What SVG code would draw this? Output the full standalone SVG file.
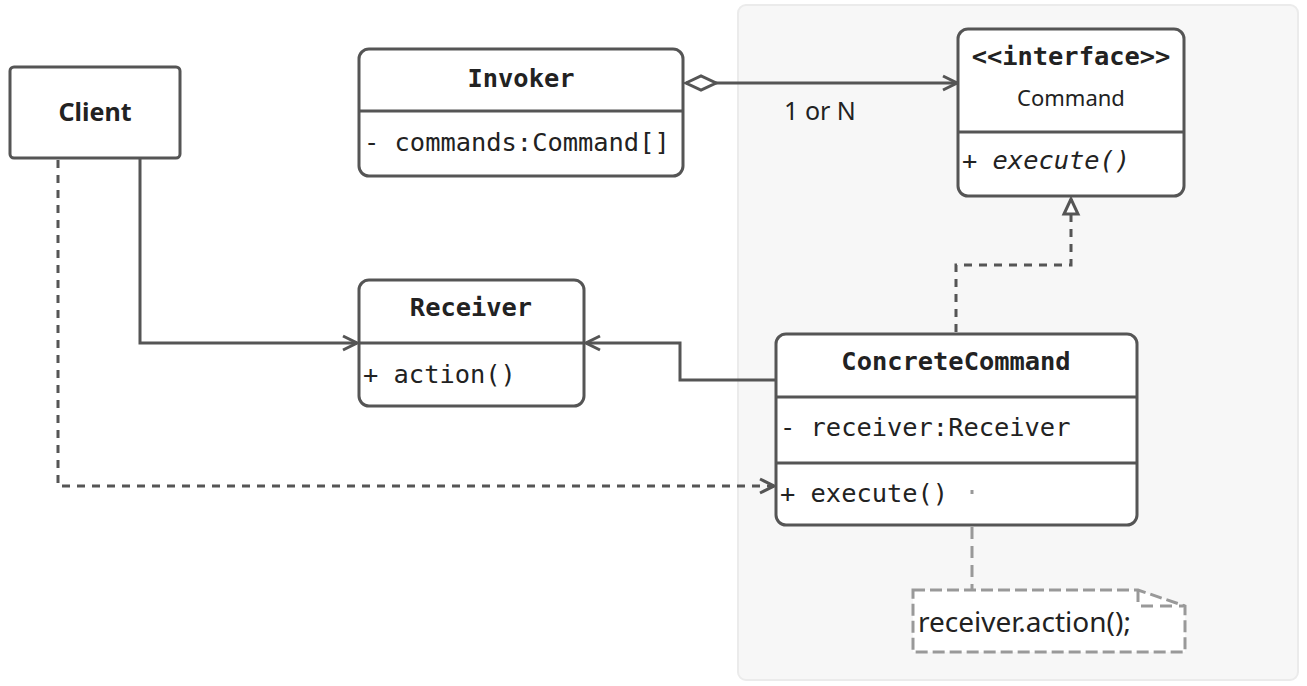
<svg xmlns="http://www.w3.org/2000/svg" width="1307" height="686" viewBox="0 0 1307 686">
<style>
.box{fill:#fff;stroke:#555;stroke-width:3}
.div{stroke:#555;stroke-width:3}
.mono{font-family:"DejaVu Sans Mono","Liberation Mono",monospace;font-size:25.4px;fill:#222}
.b{font-weight:bold}
.it{font-style:italic}
.sans{font-family:"Noto Sans","Open Sans",sans-serif;fill:#222}
.line{fill:none;stroke:#555;stroke-width:3}
.dash{fill:none;stroke:#555;stroke-width:3;stroke-dasharray:8 7}
.note{fill:#fff;stroke:#999;stroke-width:3;stroke-dasharray:12 5}
.notel{fill:none;stroke:#999;stroke-width:3;stroke-dasharray:12 7}
</style>
<defs>
<marker id="open" markerUnits="userSpaceOnUse" viewBox="0 0 18 18" refX="16" refY="9" markerWidth="18" markerHeight="18" orient="auto">
<path d="M2,2 L16,9 L2,16" fill="none" stroke="#555" stroke-width="3"/>
</marker>
<marker id="tri" markerUnits="userSpaceOnUse" viewBox="0 0 20 20" refX="18" refY="10" markerWidth="20" markerHeight="20" orient="auto">
<path d="M3,3 L18,10 L3,17 Z" fill="#fff" stroke="#555" stroke-width="3"/>
</marker>
<marker id="dia" markerUnits="userSpaceOnUse" viewBox="0 0 34 18" refX="2" refY="9" markerWidth="34" markerHeight="18" orient="auto">
<path d="M2,9 L17,2 L32,9 L17,16 Z" fill="#fff" stroke="#555" stroke-width="3"/>
</marker>
</defs>

<rect x="738" y="5" width="560" height="675" rx="8" fill="#f7f7f7" stroke="#ebebeb" stroke-width="2"/>

<g id="client">
<rect class="box" x="10" y="67" width="170" height="91" rx="4"/>
<text class="sans b" x="95" y="121" font-size="25" text-anchor="middle">Client</text>
</g>

<g id="invoker">
<rect class="box" x="359" y="49" width="324" height="127" rx="10"/>
<line class="div" x1="359" y1="111" x2="683" y2="111"/>
<text class="mono b" x="521" y="87" text-anchor="middle">Invoker</text>
<text class="mono" x="364" y="151">- commands:Command[]</text>
</g>

<g id="command">
<rect class="box" x="958" y="29" width="226" height="167" rx="10"/>
<line class="div" x1="958" y1="132" x2="1184" y2="132"/>
<text class="mono b" x="1071" y="65" text-anchor="middle">&lt;&lt;interface&gt;&gt;</text>
<text class="sans" x="1071" y="106" font-size="22" text-anchor="middle">Command</text>
<text class="mono it" x="962" y="169">+ execute()</text>
</g>

<g id="receiver">
<rect class="box" x="359" y="280" width="225" height="126" rx="10"/>
<line class="div" x1="359" y1="343" x2="584" y2="343"/>
<text class="mono b" x="471" y="316" text-anchor="middle">Receiver</text>
<text class="mono" x="363" y="383">+ action()</text>
</g>

<g id="concretecommand">
<rect class="box" x="776" y="334" width="361" height="191" rx="10"/>
<line class="div" x1="776" y1="397" x2="1137" y2="397"/>
<line class="div" x1="776" y1="463" x2="1137" y2="463"/>
<text class="mono b" x="956" y="370" text-anchor="middle">ConcreteCommand</text>
<text class="mono" x="780" y="436">- receiver:Receiver</text>
<text class="mono" x="780" y="502">+ execute()</text>
</g>

<g id="note">
<path class="note" d="M913,590 L1138,590 L1185,606 L1185,652 L913,652 Z"/>
<path class="notel" d="M1138,590 L1138,606 L1185,606" stroke-dasharray="8 5"/>
<text class="sans" x="918" y="632" font-size="28">receiver.action();</text>
</g>

<g id="connectors">
<path class="line" d="M686,83 L957,83" marker-start="url(#dia)" marker-end="url(#open)"/>
<text class="sans" x="820" y="120" font-size="25" text-anchor="middle">1 or N</text>
<path class="line" d="M140,159 L140,343 L357,343" marker-end="url(#open)"/>
<path class="line" d="M775,380 L680,380 L680,343 L586,343" marker-end="url(#open)"/>
<path class="dash" d="M956,332 L956,265 L1071,265 L1071,199" marker-end="url(#tri)"/>
<path class="dash" d="M58,160 L58,486 L774,486" marker-end="url(#open)"/>
<path class="notel" d="M972,490 L972,494 M972,527 L972,589" stroke-dasharray="10 6"/>
</g>
</svg>
